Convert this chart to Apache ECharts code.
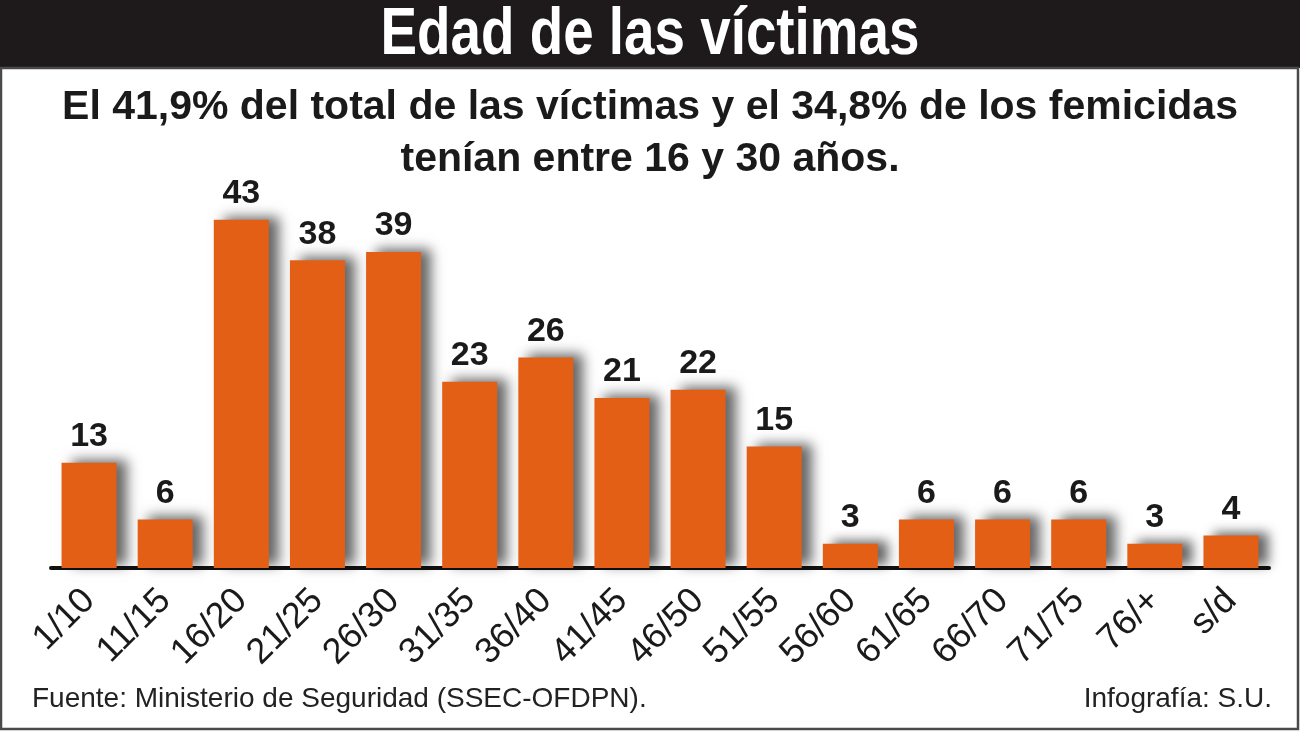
<!DOCTYPE html>
<html><head><meta charset="utf-8">
<script src="https://cdn.jsdelivr.net/npm/echarts@6/dist/echarts.min.js"></script>
<style>html,body{margin:0;padding:0;background:#fff}#c{width:1300px;height:731px}</style>
</head><body><div id="c"></div>
<script>
const categories = ['1/10','11/15','16/20','21/25','26/30','31/35','36/40','41/45','46/50','51/55','56/60','61/65','66/70','71/75','76/+','s/d'];
const values = [13,6,43,38,39,23,26,21,22,15,3,6,6,6,3,4];
const titleText = 'Edad de las víctimas';
const subtitleLine1 = 'El 41,9% del total de las víctimas y el 34,8% de los femicidas';
const subtitleLine2 = 'tenían entre 16 y 30 años.';
const sourceText = 'Fuente: Ministerio de Seguridad (SSEC-OFDPN).';
const creditText = 'Infografía: S.U.';

const regular = '"Liberation Sans", Arial, sans-serif';

const chart = echarts.init(document.getElementById('c'), null, {renderer:'canvas'});
chart.setOption({
  backgroundColor:'#ffffff',
  animation:false,
  graphic:[
    {type:'rect', x:0, y:0, shape:{width:1300,height:68}, style:{fill:'#1e1a1b'}, z:0},
    {type:'rect', x:1, y:68, shape:{width:1297,height:661}, style:{fill:'none', stroke:'#4a4a4a', lineWidth:2.5}, z:0},
    {type:'text', x:650, y:3, scaleX:0.83, scaleY:1, style:{x:0, y:0, text:titleText, fill:'#ffffff', align:'center', verticalAlign:'top', fontSize:66, fontWeight:'bold', fontFamily:regular}},
    {type:'text', left:'center', top:87, style:{text:subtitleLine1, fill:'#1a1a1a', fontSize:41, fontWeight:'bold', fontFamily:regular}},
    {type:'text', left:'center', top:139, style:{text:subtitleLine2, fill:'#1a1a1a', fontSize:41, fontWeight:'bold', fontFamily:regular}},
    {type:'text', left:32, top:685, style:{text:sourceText, fill:'#222', fontSize:28, fontFamily:regular}},
    {type:'text', right:28, top:685, style:{text:creditText, fill:'#222', fontSize:28, fontFamily:regular}}
  ],
  grid:{left:51, right:31, top:163, bottom:163, containLabel:false},
  xAxis:{
    type:'category', data:categories,
    axisLine:{show:true, lineStyle:{color:'#111', width:4}},
    axisTick:{show:false},
    axisLabel:{rotate:45, fontSize:36, color:'#1a1a1a', fontFamily:regular, margin:27, interval:0}
  },
  yAxis:{type:'value', min:0, max:50, show:false, splitLine:{show:false}},
  series:[{
    type:'bar', data:values, barWidth:55,
    itemStyle:{color:'#e45f16', shadowColor:'rgba(0,0,0,0.6)', shadowBlur:12, shadowOffsetX:10, shadowOffsetY:-3},
    label:{show:true, position:'top', distance:9, color:'#1a1a1a', fontSize:34, fontWeight:'bold', fontFamily:regular}
  }]
});
</script></body></html>
